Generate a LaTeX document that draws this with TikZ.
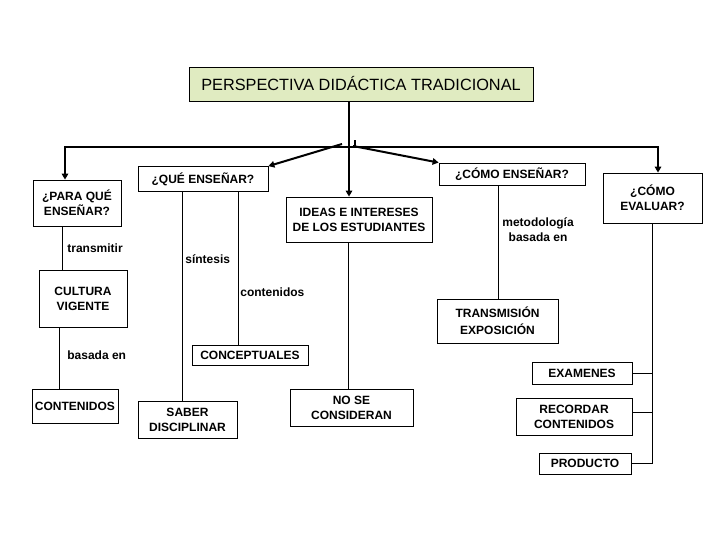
\documentclass[tikz,border=0pt]{standalone}
\usepackage{fontspec}
\setmainfont{Liberation Sans}
\usetikzlibrary{arrows.meta,positioning}
\definecolor{titlegreen}{RGB}{224,235,193}

\begin{document}
\begin{tikzpicture}[
  x=1pt, y=-1pt,
  box/.style={rectangle, draw, line width=0.8pt, align=center, inner sep=1pt, font=\fontsize{12}{15}\selectfont\bfseries},
  tag/.style={align=center, inner sep=2pt, font=\fontsize{12}{15}\selectfont\bfseries},
  titlebox/.style={rectangle, draw, line width=0.8pt, fill=titlegreen, font=\fontsize{16.3}{19}\selectfont},
  trunk/.style={line width=2pt},
  arr/.style={-{Triangle[length=6pt,width=6.5pt]}, line width=2pt},
  link/.style={line width=0.8pt}
]
  \useasboundingbox (0,0) rectangle (720,540);

  % --- 1. TITLE AND MAIN BRANCHES ---
  \node[titlebox, minimum width=344pt, minimum height=34pt] (titulo) at (361,84) {PERSPECTIVA DIDÁCTICA TRADICIONAL};
  \coordinate (hub) at (349,147);

  \node[box, minimum width=88pt, minimum height=46pt] (paraque) at (77,203) {¿PARA QUÉ\\ENSEÑAR?};
  \node[box, minimum width=130pt, minimum height=25pt] (queens) at (203,179) {¿QUÉ ENSEÑAR?};
  \node[box, minimum width=146pt, minimum height=45pt] (ideas) at (359,219.5) {IDEAS E INTERESES\\DE LOS ESTUDIANTES};
  \node[box, minimum width=146pt, minimum height=22pt] (comoens) at (512,174) {¿CÓMO ENSEÑAR?};
  \node[box, minimum width=99pt, minimum height=50pt] (evaluar) at (652.5,198) {¿CÓMO\\EVALUAR?};

  \draw[trunk] (titulo.south -| hub) -- (hub);
  \draw[arr] (hub) -| ([xshift=-12pt]paraque.north);
  \draw[arr] (hub) -| ([xshift=5.5pt]evaluar.north);
  \draw[arr] (hub) -- (ideas.north -| hub);
  \draw[arr] ([xshift=-7pt,yshift=3pt]hub) -- (queens.north east);
  \draw[arr] ([xshift=4pt,yshift=1pt]hub) -- (comoens.north west);
  \draw[trunk] ([xshift=6pt]hub) -- ++(0,-7);

  % --- 2. LOWER BOXES ---
  \node[box, minimum width=88pt, minimum height=57pt] (cultura) at (83,298.5) {CULTURA\\VIGENTE};
  \node[box, minimum width=86pt, minimum height=34pt] (contenidos) at (75,406) {CONTENIDOS};
  \node[box, minimum width=116pt, minimum height=20pt] (conceptuales) at (250,355) {CONCEPTUALES};
  \node[box, minimum width=99pt, minimum height=37pt] (saber) at (187.5,419.5) {SABER\\DISCIPLINAR};
  \node[box, minimum width=123pt, minimum height=37pt] (nose) at (351.5,407.5) {NO SE\\CONSIDERAN};
  \node[box, minimum width=121pt, minimum height=44pt] (transmision) at (497.5,321) {TRANSMISIÓN\\[2pt]EXPOSICIÓN};
  \node[box, minimum width=100pt, minimum height=22pt] (examenes) at (582,373) {EXAMENES};
  \node[box, minimum width=116pt, minimum height=37pt] (recordar) at (574,416.5) {RECORDAR\\CONTENIDOS};
  \node[box, minimum width=92pt, minimum height=21pt] (producto) at (585,463.5) {PRODUCTO};

  % --- 3. LINKING LINES ---
  \draw[link] (paraque.south -| 62,0) -- node[tag, right=3pt] (ltransmitir) {transmitir} (cultura.north -| 62,0);
  \draw[link] (cultura.south -| 59,0) -- node[tag, right=6pt, pos=0.45] (lbasada) {basada en} (contenidos.north -| 59,0);
  \draw[link] (queens.south -| 182,0) -- node[tag, right=1pt, pos=0.32] (lsintesis) {síntesis} (saber.north -| 182,0);
  \draw[link] (queens.south -| 238,0) -- node[tag, right=0pt, pos=0.66] (lcontenidos) {contenidos} (conceptuales.north -| 238,0);
  \draw[link] (ideas.south -| 348,0) -- (nose.north -| 348,0);
  \draw[link] (comoens.south -| 498,0) -- node[tag, right=2pt, pos=0.39] (lmetodo) {metodología\\basada en} (transmision.north -| 498,0);

  % Evaluation bracket
  \draw[link] (evaluar.south) |- (producto.east);
  \draw[link] (examenes.east) -- (examenes.east -| evaluar.south);
  \draw[link] ([yshift=4pt]recordar.east) -- ([yshift=4pt]recordar.east -| evaluar.south);

\end{tikzpicture}
\end{document}
